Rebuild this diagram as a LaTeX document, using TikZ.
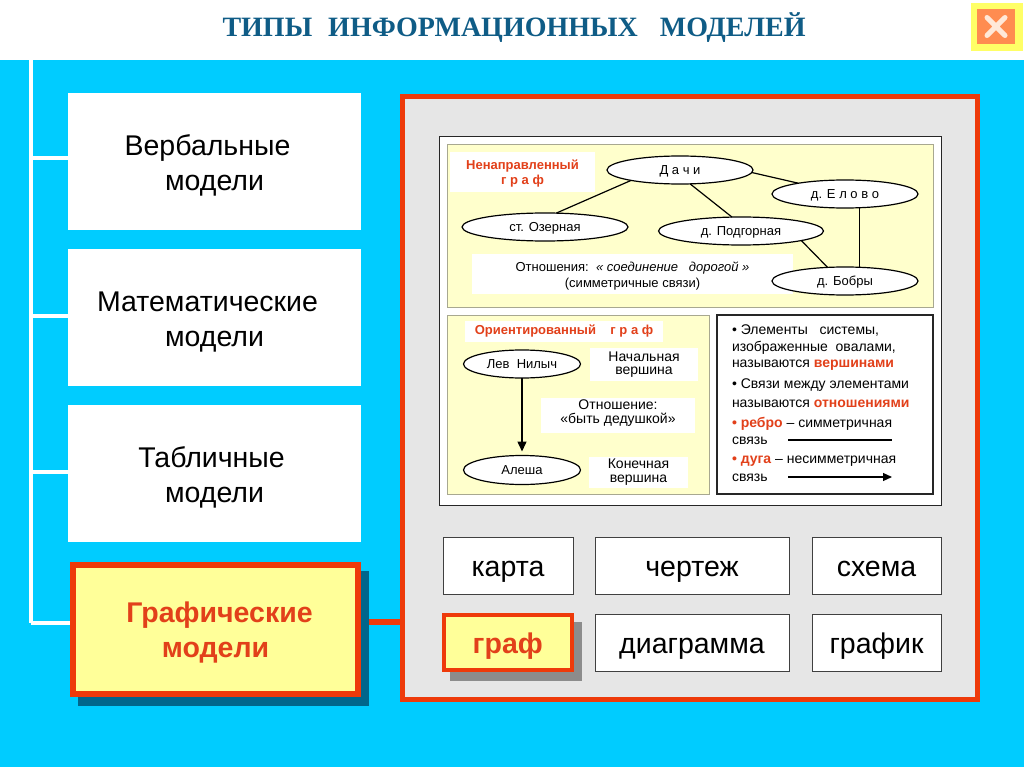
\documentclass[tikz,border=0pt]{standalone}
\usepackage{fontspec}
\setmainfont{Liberation Sans}
\newfontfamily\titlefont{Liberation Serif}
\usetikzlibrary{shapes.geometric,arrows.meta}
\definecolor{sky}{HTML}{00CCFF}
\definecolor{redline}{HTML}{EE3A0A}
\definecolor{redtxt}{HTML}{E2401A}
\definecolor{paleyel}{HTML}{FFFFCC}
\definecolor{yel}{HTML}{FFFF99}
\definecolor{panelgrey}{HTML}{E6E6E6}
\definecolor{edgegrey}{HTML}{A8A890}
\definecolor{titleblue}{HTML}{0F5C86}
\definecolor{shadowblue}{HTML}{00668C}
\definecolor{shadowgrey}{HTML}{8C8C8C}
\newcommand\fsz[1]{\fontsize{#1}{#1}\selectfont}
\newcommand\tp[1]{\rule{0pt}{#1pt}}
\newcommand\bx[7][]{%
  \pgfmathsetmacro\bxcx{(#3+#5)/2}\pgfmathsetmacro\bxcy{(#4+#6)/2}%
  \pgfmathsetmacro\bxw{#5-#3}\pgfmathsetmacro\bxh{#6-#4}%
  \node[rectangle,inner sep=0pt,outer sep=0pt,align=center,minimum width=\bxw pt,minimum height=\bxh pt,#1] (#2) at (\bxcx,\bxcy) {#7};}
\tikzset{
  model/.style={fill=white,font=\fsz{28.5},text=black},
  chosen/.style={fill=yel,draw=redline,line width=5.5pt,text=redtxt,font=\fsz{28.5}\bfseries},
  kind/.style={fill=white,draw=black!75,line width=0.9pt,font=\fsz{28.5},text=black,execute at begin node={\rule[-6.5pt]{0pt}{34pt}}},
  paper/.style={fill=white,draw=black!85,line width=1pt},
  sub/.style={fill=paleyel,draw=edgegrey,line width=1pt},
  patch/.style={fill=white,font=\fsz{14},text=black,align=center},
  vert/.style={ellipse,draw=black,fill=white,line width=1.2pt,inner sep=0pt,outer sep=0pt,font=\fsz{13},text=black,text height=9.5pt,text depth=0pt},
  edgeline/.style={draw=black,line width=1.2pt},
  lbl/.style={inner sep=0pt,outer sep=0pt,anchor=west,font=\fsz{14},text=black}
}
\pgfdeclarelayer{back}\pgfdeclarelayer{under}
\pgfsetlayers{back,under,main}
\newcommand\rd[1]{\textcolor{redtxt}{\bfseries #1}}
\begin{document}
\begin{tikzpicture}[x=1pt,y=-1pt]
\useasboundingbox (0,0) rectangle (1024,767);
\begin{pgfonlayer}{back}
  \fill[white] (0,0) rectangle (1024,60);
  \fill[sky] (0,60) rectangle (1024,767);
\end{pgfonlayer}

% title
\node[inner sep=0pt,text=titleblue,font=\titlefont\fsz{28}\bfseries] (title) at (514,28) {ТИПЫ\ \ \kern2pt ИНФОРМАЦИОННЫХ\ \ \kern8pt МОДЕЛЕЙ};

% close button
\bx[fill={rgb,255:red,255;green,255;blue,102}]{closeouter}{971}{3}{1023}{51}{}
\bx[fill={rgb,255:red,255;green,140;blue,80}]{closeinner}{977}{9}{1015}{44}{}
\draw[line width=5pt,line cap=round,draw={rgb,255:red,255;green,232;blue,216}]
  ([xshift=-9pt,yshift=9pt]closeinner.center) -- ([xshift=9pt,yshift=-9pt]closeinner.center)
  ([xshift=-9pt,yshift=-9pt]closeinner.center) -- ([xshift=9pt,yshift=9pt]closeinner.center);

% left column
\bx[model]{wa}{68}{93}{361}{230}{\tp{29}Вербальные\kern14pt\\[6.5pt]модели}
\bx[model]{wb}{68}{249}{361}{386}{\tp{29}Математические\kern14pt\\[6.5pt]модели}
\bx[model]{wc}{68}{405}{361}{542}{\tp{29}Табличные\kern6pt\\[6.5pt]модели}
\fill[shadowblue] (78,571) rectangle (369,706);
\bx[chosen]{gr}{73}{565}{358}{694}{\tp{27.5}\kern8pt Графические\\[6.5pt]модели}

% main panel
\bx[fill=panelgrey,draw=redline,line width=5.5pt]{panel}{402.5}{96.5}{977.5}{699.5}{}

\coordinate (trunktop) at (31,60);
\coordinate (trunkend) at (31,623);
\begin{pgfonlayer}{under}
  \draw[white,line width=4pt] (trunktop) -- (trunkend);
  \draw[white,line width=4pt] ([yshift=3pt]wa.west -| trunktop) -- ([yshift=3pt]wa.west);
  \draw[white,line width=4pt] ([yshift=2pt]wb.west -| trunktop) -- ([yshift=2pt]wb.west);
  \draw[white,line width=4pt] ([yshift=2pt]wc.west -| trunktop) -- ([yshift=2pt]wc.west);
  \draw[white,line width=4pt] ([yshift=7pt]gr.west -| trunktop) -- ([yshift=7pt]gr.west);
  \draw[redline,line width=6pt] ([yshift=8pt]gr.east) -- ([yshift=8pt]gr.east -| panel.west);
\end{pgfonlayer}

% paper with the graphs
\bx[paper]{paperbox}{439}{137}{941}{505}{}
\bx[sub]{subA}{447}{145}{933}{307}{}
\bx[sub]{subB}{447}{315}{709}{494}{}
\bx[paper,line width=1.2pt]{subC}{717}{315}{933}{494}{}

% undirected graph
\bx[patch,font=\fsz{13}]{relpatch}{472}{254}{793}{294}{\tp{13.3}Отношения:\ \ {\itshape« соединение\ \ \ дорогой »}\\[3pt](симметричные связи)}
\bx[patch,text=redtxt,font=\fsz{13}\bfseries]{undir}{450}{152}{595}{192}{\tp{13.3}Ненаправленный\\[2pt]г р а ф}
\node[vert,minimum width=146pt,minimum height=28pt] (dachi) at (680,170) {Д а ч и};
\node[vert,minimum width=146pt,minimum height=28pt] (elovo) at (845,194) {д. Е л о в о};
\node[vert,minimum width=166pt,minimum height=28pt] (ozer) at (545,227) {ст. Озерная};
\node[vert,minimum width=165pt,minimum height=28pt] (podg) at (741,231) {д. Подгорная};
\node[vert,minimum width=146pt,minimum height=28pt] (bobr) at (845,281) {д. Бобры};
\draw[edgeline] (dachi.-2) -- (elovo.167);
\draw[edgeline] (dachi.192) -- (ozer.51);
\draw[edgeline] (dachi.-54) -- (podg.123);
\draw[edgeline] (podg.-9) -- (bobr.142);
\draw[edgeline] (elovo.-43) -- (bobr.43);

% directed graph
\bx[patch,text=redtxt,font=\fsz{13}\bfseries]{dirlab}{465}{321}{663}{342}{Ориентированный\ \ \ \ г р а ф}
\bx[patch]{startv}{590}{348}{698}{381}{Начальная\\[-1pt]вершина\rule[-2pt]{0pt}{2pt}}
\bx[patch]{relb}{541}{398}{695}{433}{\tp{11}Отношение:\\«быть дедушкой»\rule[-9pt]{0pt}{9pt}}
\bx[patch]{endv}{589}{457}{688}{488}{Конечная\\вершина\rule[-2pt]{0pt}{2pt}}
\node[vert,minimum width=117pt,minimum height=28pt] (lev) at (522,364) {Лев\ \ Нилыч};
\node[vert,minimum width=117pt,minimum height=29pt] (alesha) at (522,470) {Алеша};
\draw[edgeline,line width=1.5pt,-{Triangle[length=10pt,width=9pt]},shorten >=4pt] (lev) -- (alesha);

% legend text
\node[lbl] (t1) at (732,330.5) {• Элементы\ \ \ системы,};
\node[lbl] (t2) at (732,347.5) {изображенные\ \ овалами,};
\node[lbl] (t3) at (732,365.5) {называются \rd{вершинами}};
\node[lbl] (t4) at (732,385.5) {• Связи между элементами};
\node[lbl] (t5) at (732,403.5) {называются \rd{отношениями}};
\node[lbl] (t6) at (732,423.5) {\rd{• ребро} – симметричная};
\node[lbl] (t7) at (732,441) {связь};
\node[lbl] (t8) at (732,461.5) {\rd{• дуга} – несимметричная};
\node[lbl] (t9) at (732,478) {связь};
\coordinate (ea) at (788,440); \coordinate (eb) at (892,440);
\coordinate (aa) at (788,477); \coordinate (ab) at (892,477);
\draw[edgeline] (ea) -- (eb);
\draw[edgeline,-{Triangle[length=9pt,width=8pt]}] (aa) -- (ab);

% kinds of model
\bx[kind]{karta}{443}{537}{573}{594}{карта}
\bx[kind]{chert}{595}{537}{789}{594}{чертеж}
\bx[kind]{shema}{812}{537}{941}{594}{схема}
\fill[shadowgrey] (450,622) rectangle (582,681);
\bx[chosen,line width=4pt,execute at begin node={\rule[-6.5pt]{0pt}{35.5pt}}]{graf}{444}{615}{571.5}{670}{граф}
\bx[kind]{diag}{595}{614}{789}{671}{диаграмма}
\bx[kind]{grafik}{812}{614}{941}{671}{график}
\end{tikzpicture}
\end{document}
